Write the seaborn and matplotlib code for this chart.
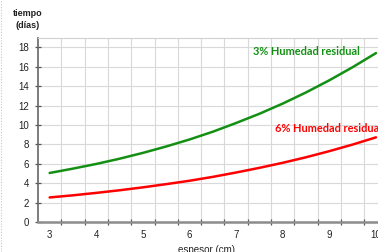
import numpy as np
import pandas as pd
import matplotlib
matplotlib.use("Agg")
import matplotlib.pyplot as plt
import seaborn as sns
from matplotlib.ticker import FixedLocator
from matplotlib.lines import Line2D

# Espesor (cm) y tiempo de secado (dias)
espesor = [3.0, 3.5, 4.0, 4.5, 5.0, 5.5, 6.0, 6.5, 7.0, 7.5, 8.0, 8.5, 9.0, 9.5, 10.0]
tiempo_3 = [5.05, 5.5, 5.98, 6.52, 7.12, 7.78, 8.5, 9.3, 10.2, 11.15, 12.2, 13.35, 14.6, 15.95, 17.4]
tiempo_6 = [2.53, 2.75, 3.0, 3.27, 3.57, 3.9, 4.25, 4.65, 5.1, 5.58, 6.1, 6.67, 7.3, 7.98, 8.72]
serie_3 = "3% Humedad residual"
serie_6 = "6% Humedad residual"
y_ticks = [0, 2, 4, 6, 8, 10, 12, 14, 16, 18]
x_labels = [3, 4, 5, 6, 7, 8, 9, 10]

df = pd.DataFrame({"espesor": espesor * 2,
                   "tiempo": tiempo_3 + tiempo_6,
                   "serie": [serie_3] * len(espesor) + [serie_6] * len(espesor)})

sns.set_theme(style="white")
plt.rcParams["font.family"] = ["Liberation Sans", "DejaVu Sans"]

fig = plt.figure(figsize=(3.78, 2.52), dpi=100)
ax = fig.add_axes([0.1005, 0.119, 0.925, 0.732])

sns.lineplot(data=df, x="espesor", y="tiempo", hue="serie",
             palette={serie_3: "#139013", serie_6: "#ff0000"},
             linewidth=1.8, legend=False, ax=ax)

ax.set_xlim(2.75, 10.25)
ax.set_ylim(0, 19)

# labels at integers, tick marks / grid at half steps in between
ax.xaxis.set_major_locator(FixedLocator(x_labels))
ax.set_xticklabels([str(v) for v in x_labels])
ax.xaxis.set_minor_locator(FixedLocator(np.arange(3.25, 10.3, 0.5)))
ax.tick_params(axis="x", which="major", length=0, pad=6, labelsize=7, colors="#222222")
ax.tick_params(axis="x", which="minor", bottom=True, length=5, width=0.9,
               direction="inout", color="#555555")
ax.grid(axis="x", which="minor", color="#d9d9d9", linewidth=0.8)

ax.set_yticks(y_ticks)
ax.tick_params(axis="y", which="major", left=True, length=5, width=0.9,
               direction="inout", color="#555555", pad=4, labelsize=7, labelcolor="#222222")
ax.grid(axis="y", which="major", color="#d9d9d9", linewidth=0.8)

ax.spines["left"].set_color("#666666")
ax.spines["left"].set_linewidth(1.2)
ax.spines["bottom"].set_color("#8c8c8c")
ax.spines["bottom"].set_linewidth(1.8)
ax.spines["top"].set_color("#d0d0d0")
ax.spines["top"].set_linewidth(0.8)
ax.spines["right"].set_visible(False)

ax.set_xlabel("")
ax.set_ylabel("")
fig.text(0.547, -0.012, "espesor (cm)", ha="center", va="bottom", fontsize=7, color="#222222")
fig.text(0.072, 0.945, "tiempo", ha="center", va="center", fontsize=6.5,
         fontweight="bold", color="#222222")
fig.text(0.072, 0.9, "(días)", ha="center", va="center", fontsize=6.5,
         fontweight="bold", color="#222222")

ax.text(7.36, 17.6, serie_3, color="#139013", fontsize=7.9, fontweight="bold",
        family=["Lato", "DejaVu Sans"], va="center", ha="left")
ax.text(7.84, 9.6, serie_6, color="#ff0000", fontsize=7.9, fontweight="bold",
        family=["Lato", "DejaVu Sans"], va="center", ha="left")

fig.add_artist(Line2D([0.003, 0.003], [0, 1], transform=fig.transFigure,
                      color="#c8c8c8", linewidth=0.8, linestyle=(0, (1, 1.5))))

fig.savefig("out.png", dpi=100)
